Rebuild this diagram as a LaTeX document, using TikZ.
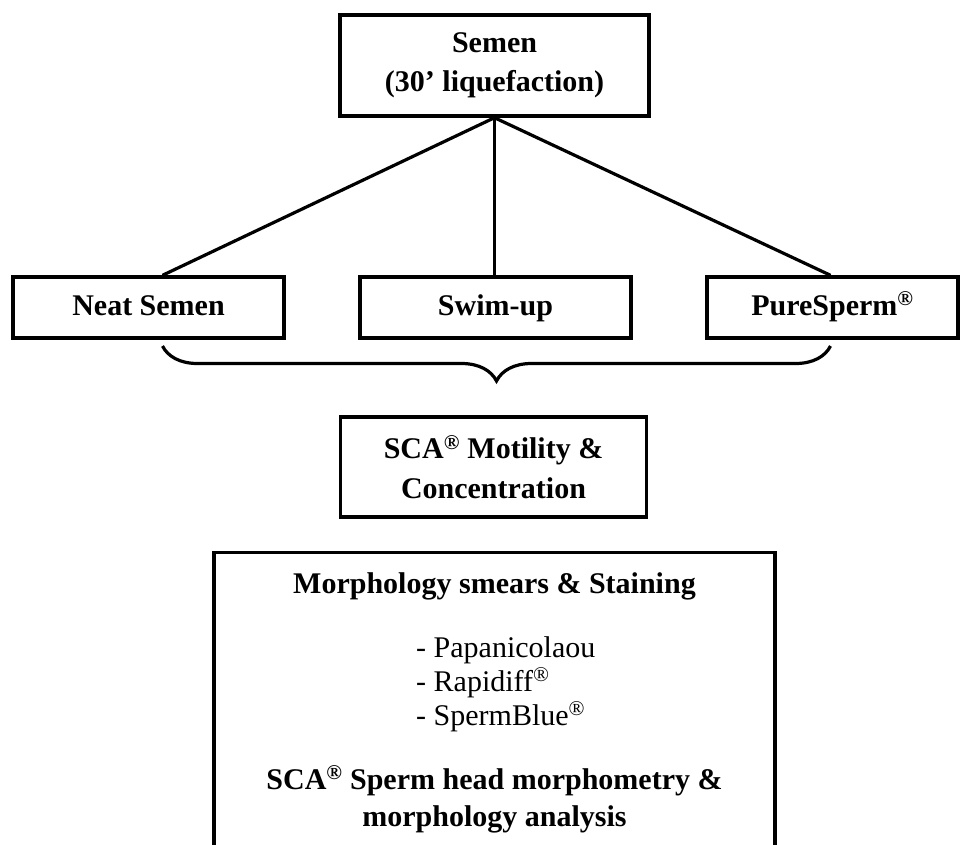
\documentclass[tikz,border=0pt]{standalone}
\usepackage{fontspec}
\setmainfont{Liberation Serif}
\usetikzlibrary{decorations.pathreplacing,calc}
\begin{document}
\begin{tikzpicture}[x=1pt,y=-1pt,
  box/.style={draw,line width=3.4pt,align=center,inner sep=0pt,font=\fontsize{30}{40}\selectfont\bfseries},
  onebox/.style={box,minimum height=61pt,text height=21pt,text depth=6pt},
  conn/.style={line width=3.2pt},
  boldtxt/.style={font=\fontsize{30}{36}\selectfont\bfseries,inner sep=0pt},
  plaintxt/.style={font=\fontsize{30}{34}\selectfont,inner sep=0pt}]
\fill[white] (0,0) rectangle (968,844);
\useasboundingbox (0,0) rectangle (968,844);
% boxes
\node[box,minimum width=309pt,minimum height=101pt] (semen) at (494.5,65.5) {Semen\\[-1pt](30’ liquefaction)};
\node[onebox,minimum width=271pt] (neat) at (148.5,307.5) {Neat Semen};
\node[onebox,minimum width=271pt] (swim) at (495.5,307.5) {Swim-up};
\node[onebox,minimum width=251pt] (pure) at (832.5,307.5) {PureSperm\textsuperscript{®}};
\node[box,minimum width=306pt,minimum height=100pt] (sca) at (493.5,467) {SCA\textsuperscript{®} Motility \&\\Concentration};
% connectors
\coordinate (bl) at (162.5,346);
\coordinate (br) at (830.5,346);
\draw[conn] (semen.south) -- (neat.north -| bl);
\draw[conn] (semen.south) -- (semen.south |- swim.north);
\draw[conn] (semen.south) -- (pure.north -| br);
\draw[conn,decorate,decoration={brace,mirror,amplitude=35pt}] (bl) -- (br);
% bottom box (cut by the lower edge)
\begin{scope}
\clip (0,0) rectangle (968,844);
\node[draw,line width=3.4pt,minimum width=561pt,minimum height=400pt,anchor=north,inner sep=0pt,outer sep=0pt] (morph) at (494.5,552.5) {};
\end{scope}
\node[boldtxt,anchor=base] (mh) at (494.5,593) {Morphology smears \& Staining};
\node[plaintxt,anchor=base west] (l1) at (416,657) {- Papanicolaou};
\node[plaintxt,anchor=base west] (l2) at (416,691) {- Rapidiff\textsuperscript{®}};
\node[plaintxt,anchor=base west] (l3) at (416,725) {- SpermBlue\textsuperscript{®}};
\node[boldtxt,anchor=base] (sh1) at (494.5,789) {SCA\textsuperscript{®} Sperm head morphometry \&};
\node[boldtxt,anchor=base] (sh2) at (494.5,826) {morphology analysis};
\end{tikzpicture}
\end{document}
